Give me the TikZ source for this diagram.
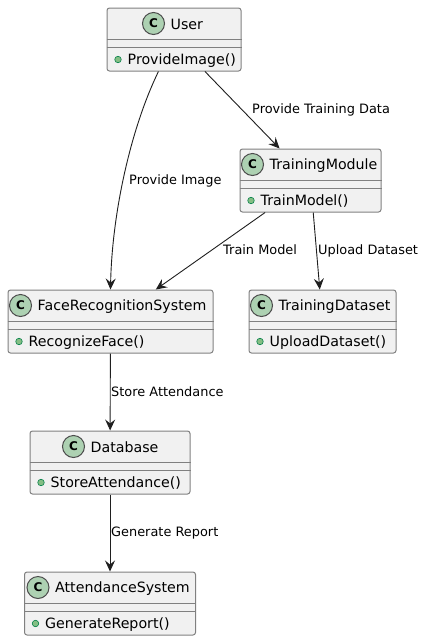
\documentclass[tikz,border=0pt]{standalone}
\usepackage{fontspec}
\setmainfont{DejaVu Sans}
\usetikzlibrary{arrows.meta,positioning}
\definecolor{boxfill}{HTML}{F1F1F1}
\definecolor{boxline}{HTML}{808080}
\definecolor{spotfill}{HTML}{ADD1B2}
\definecolor{dotfill}{HTML}{84BE84}
\definecolor{dotline}{HTML}{038048}
\tikzset{
  classbox/.style={draw=boxline, fill=boxfill, line width=1pt, rounded corners=2.5pt, minimum height=63pt, inner sep=0pt},
  divider/.style={draw=boxline, line width=1pt},
  spot/.style={circle, draw=black!70, fill=spotfill, line width=1pt, minimum size=22pt, inner sep=0pt, font=\fontsize{12}{12}\selectfont\bfseries},
  classname/.style={inner sep=0pt, font=\fontsize{14.2}{14.2}\selectfont, anchor=west},
  methodname/.style={inner sep=0pt, font=\fontsize{14.2}{14.2}\selectfont, anchor=west},
  methoddot/.style={circle, draw=dotline, fill=dotfill, line width=0.6pt, minimum size=6.5pt, inner sep=0pt},
  link/.style={-{Stealth[length=11pt,width=10pt,inset=4pt]}, draw=black!88, line width=0.9pt},
  linklabel/.style={inner sep=0pt, font=\fontsize{12.9}{12.9}\selectfont, anchor=west}
}
% name, centre x, centre y, width, spot offset, title, method
\newcommand{\classnode}[7]{
  \node[classbox, minimum width=#4pt] (#1) at (#2,#3) {};
  \node[spot] (#1spot) at ([xshift=#5pt,yshift=-16pt]#1.north west) {C};
  \node[classname] (#1title) at ([xshift=17pt,yshift=-0.8pt]#1spot.center) {#6};
  \draw[divider] ([yshift=-31.5pt]#1.north west) -- ([yshift=-31.5pt]#1.north east);
  \draw[divider] ([yshift=-39.5pt]#1.north west) -- ([yshift=-39.5pt]#1.north east);
  \node[methoddot] (#1dot) at ([xshift=11.5pt,yshift=-52pt]#1.north west) {};
  \node[methodname] (#1method) at ([xshift=9.5pt,yshift=-0.8pt]#1dot.center) {#7};
}
\begin{document}
\begin{tikzpicture}[x=1pt,y=-1pt]
  \useasboundingbox (0,0) rectangle (424,641);

  % Define nodes
  \classnode{user}{174}{39.5}{134}{47}{User}{ProvideImage()}
  \classnode{training}{310.5}{180.5}{141}{13}{TrainingModule}{TrainModel()}
  \classnode{face}{110.5}{321.5}{205}{13}{FaceRecognitionSystem}{RecognizeFace()}
  \classnode{dataset}{322.5}{321.5}{147}{13}{TrainingDataset}{UploadDataset()}
  \classnode{database}{110}{462.5}{160}{44}{Database}{StoreAttendance()}
  \classnode{attendance}{110}{603.5}{171}{14}{AttendanceSystem}{GenerateReport()}

  % Draw edges
  \draw[link] (user) .. controls (130,130) and (112,215) .. (face.north);
  \draw[link] (user) -- (training);
  \draw[link] (training) -- (face);
  \draw[link] (training) -- (dataset);
  \draw[link] (face) -- (database);
  \draw[link] (database) -- (attendance);

  % Edge labels
  \node[linklabel] (imagelabel) at (129,181) {Provide Image};
  \node[linklabel] (datalabel) at (252,110) {Provide Training Data};
  \node[linklabel] (modellabel) at (223,250) {Train Model};
  \node[linklabel] (uploadlabel) at (318,251) {Upload Dataset};
  \node[linklabel] (storelabel) at (111,392) {Store Attendance};
  \node[linklabel] (reportlabel) at (111,533) {Generate Report};
\end{tikzpicture}
\end{document}
